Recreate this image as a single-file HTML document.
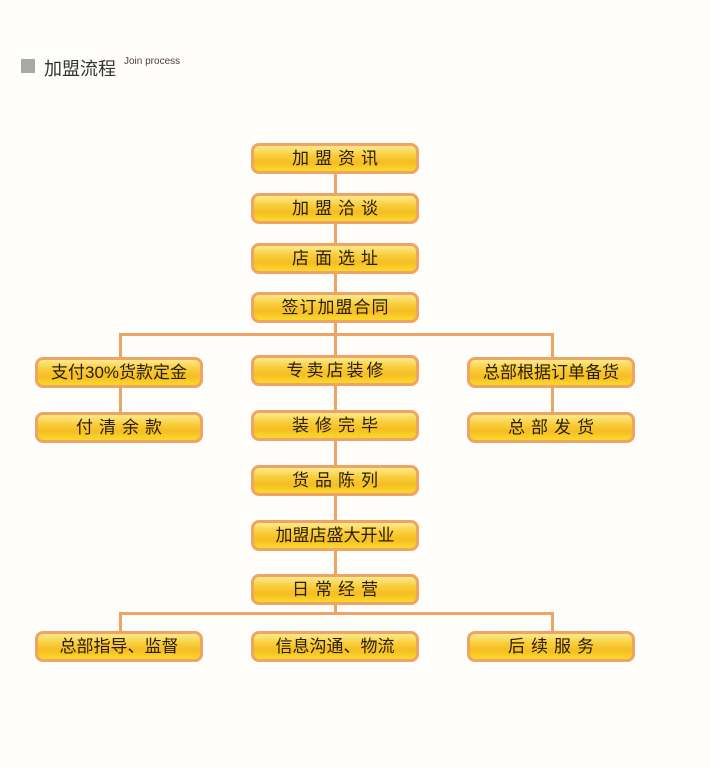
<!DOCTYPE html>
<html><head><meta charset="utf-8"><style>
body{margin:0;width:710px;height:768px;background:#fffefa;position:relative;overflow:hidden;font-family:"Liberation Sans","Noto Sans CJK SC",sans-serif}
.b{position:absolute;width:162px;height:25px;border:3px solid #eea464;border-radius:8px;background:linear-gradient(#fde98e 0%,#f9cf3e 35%,#f5bd22 65%,#fbd92a 100%);text-align:center;line-height:25px;font-size:17px;color:#2a1d08;box-sizing:content-box}
.s6{letter-spacing:6px;text-indent:6px}
.s3{letter-spacing:3px;text-indent:3px}
.s1{letter-spacing:1px;text-indent:1px}
.l{position:absolute;background:#eea464}
.t{position:absolute;left:21px;top:59px;width:14px;height:14px;background:#a8a8a8}
</style></head><body>
<div class="t"></div>
<div style="position:absolute;left:44px;top:55px;font-size:18px;color:#333">加盟流程</div>
<div style="position:absolute;left:124px;top:56px;font-size:10px;color:#444">Join process</div>
<div class="l" style="left:334px;top:160px;width:3px;height:453px"></div>
<div class="l" style="left:119px;top:333px;width:435px;height:3px"></div>
<div class="l" style="left:119px;top:333px;width:3px;height:90px"></div>
<div class="l" style="left:551px;top:333px;width:3px;height:90px"></div>
<div class="l" style="left:119px;top:612px;width:435px;height:3px"></div>
<div class="l" style="left:119px;top:612px;width:3px;height:25px"></div>
<div class="l" style="left:551px;top:612px;width:3px;height:25px"></div>
<div class="b s6" style="left:251px;top:143px">加盟资讯</div>
<div class="b s6" style="left:251px;top:193px">加盟洽谈</div>
<div class="b s6" style="left:251px;top:243px">店面选址</div>
<div class="b s1" style="left:251px;top:292px">签订加盟合同</div>
<div class="b" style="left:35px;top:357px">支付30%货款定金</div>
<div class="b s3" style="left:251px;top:355px">专卖店装修</div>
<div class="b" style="left:467px;top:357px">总部根据订单备货</div>
<div class="b s6" style="left:35px;top:412px">付清余款</div>
<div class="b s6" style="left:251px;top:410px">装修完毕</div>
<div class="b s6" style="left:467px;top:412px">总部发货</div>
<div class="b s6" style="left:251px;top:465px">货品陈列</div>
<div class="b" style="left:251px;top:520px">加盟店盛大开业</div>
<div class="b s6" style="left:251px;top:574px">日常经营</div>
<div class="b" style="left:35px;top:631px">总部指导、监督</div>
<div class="b" style="left:251px;top:631px">信息沟通、物流</div>
<div class="b s6" style="left:467px;top:631px">后续服务</div>
</body></html>
